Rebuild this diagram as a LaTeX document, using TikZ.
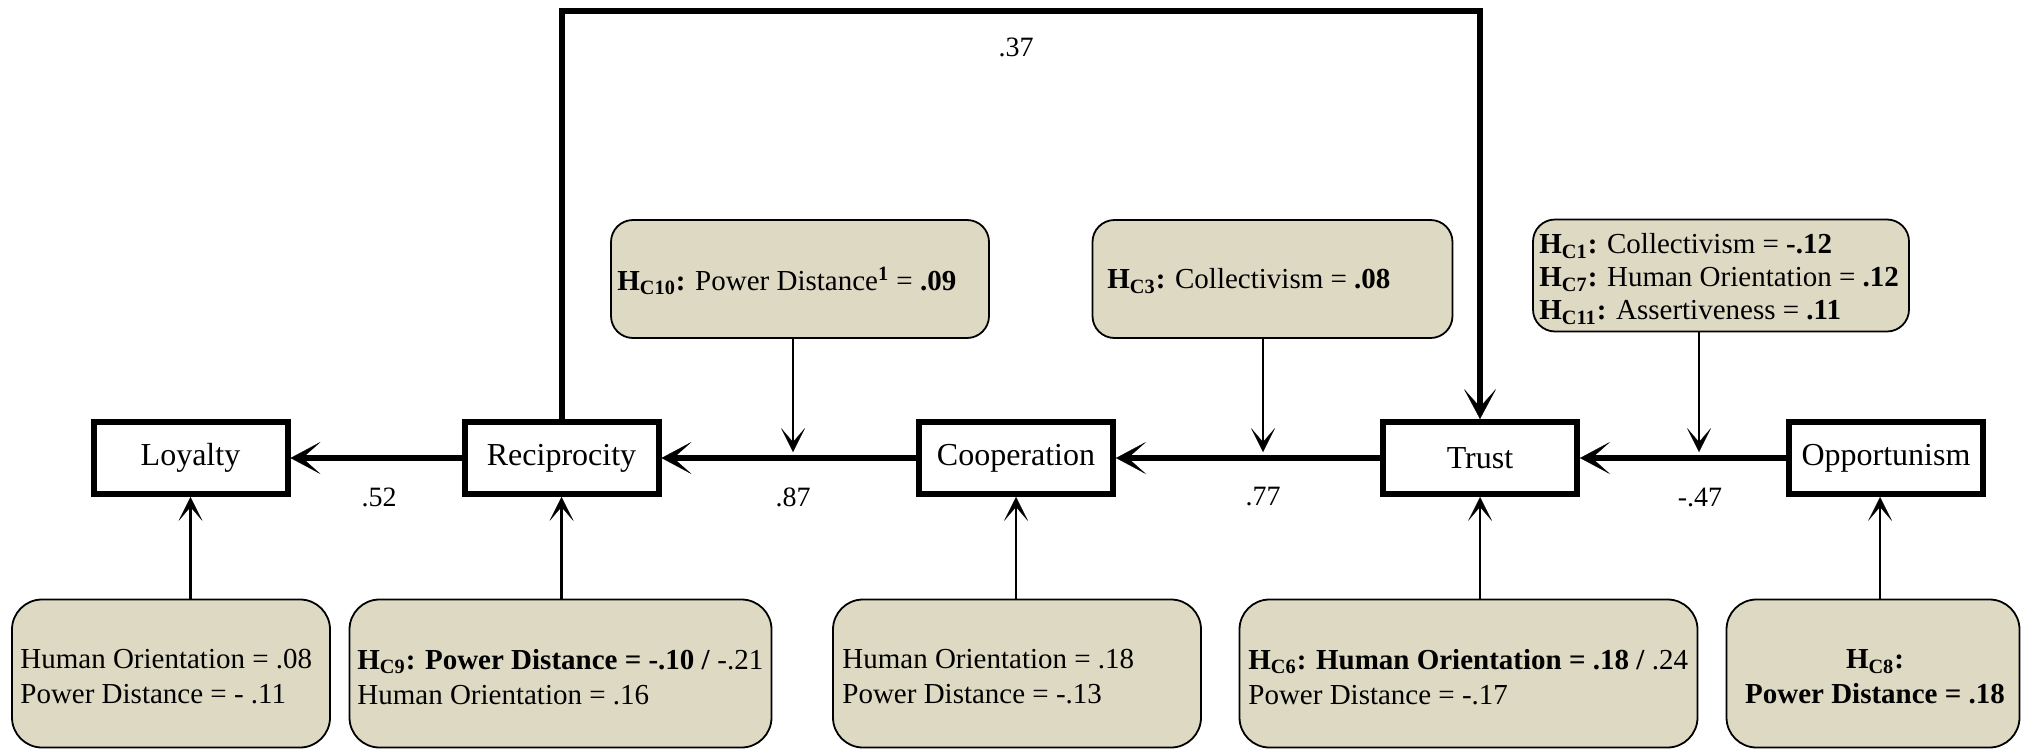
\documentclass[tikz,border=0pt]{standalone}
\usepackage{fontspec}
\setmainfont{Liberation Serif}
\usetikzlibrary{arrows.meta}
\definecolor{boxfill}{HTML}{DDD9C3}
\newcommand\hyp[1]{\textbf{H\textsubscript{C#1}:}}

\tikzset{
  construct/.style={draw, line width=3pt, fill=white, inner sep=0pt,
    minimum width=97pt, minimum height=36pt, font=\fontsize{16}{19}\selectfont},
  modbox/.style={draw, line width=0.9pt, fill=boxfill, rounded corners=11pt, inner sep=0pt},
  ctrlbox/.style={modbox, rounded corners=15pt},
  boxtext/.style={inner sep=0pt, align=left, anchor=west, font=\fontsize{14.5}{17.5}\selectfont},
  coef/.style={inner sep=0pt, font=\fontsize{14}{17}\selectfont},
  mainarrow/.style={line width=3pt, -{Stealth[length=15pt,width=16pt,inset=9pt,line width=0.1pt]}},
  modarrow/.style={line width=1.3pt, -{Stealth[length=12pt,width=12pt,inset=7pt,line width=0.1pt]}},
}

\begin{document}
\begin{tikzpicture}[x=0.5pt,y=-0.5pt]
\useasboundingbox (0,0) rectangle (2031,750);

% constructs
\node[construct] (loy)  at (190.5,458) {Loyalty};
\node[construct] (rec)  at (561.5,458) {Reciprocity};
\node[construct] (coop) at (1016,458)  {Cooperation};
\node[construct] (tru)  at (1480,458)  {Trust};
\node[construct] (opp)  at (1886,458)  {Opportunism};

% structural paths
\draw[mainarrow] (rec.west) -- (loy.east);
\draw[mainarrow] (coop.west) -- (rec.east);
\draw[mainarrow] (tru.west) -- (coop.east);
\draw[mainarrow] (opp.west) -- (tru.east);
\coordinate (fbtop) at (1016,10.5);
\draw[mainarrow] (rec.north) |- (fbtop) -| (tru.north);

% path coefficients
\node[coef] (c52) at (379,497) {.52};
\node[coef] (c87) at (793,497) {.87};
\node[coef] (c77) at (1263,497) {.77};
\node[coef] (c47) at (1700,497) {-.47};
\node[coef] (c37) at (1016,47) {.37};

% moderators of the paths
\node[modbox, minimum width=189pt, minimum height=59pt] (hc10) at (800,279) {};
\node[boxtext] (hc10t) at (617,281) {\hyp{10} Power Distance\textsuperscript{\textbf{1}} = \textbf{.09}};
\node[modbox, minimum width=180pt, minimum height=59pt] (hc3) at (1272.5,279) {};
\node[boxtext] (hc3t) at (1107,281) {\hyp{3} Collectivism = \textbf{.08}};
\node[modbox, minimum width=188pt, minimum height=56pt] (hc1) at (1721,275.5) {};
\node[boxtext, font=\fontsize{14.5}{16.5}\selectfont] (hc1t) at (1539,279)
  {\hyp{1} Collectivism = \textbf{-.12}\\ \hyp{7} Human Orientation = \textbf{.12}\\ \hyp{11} Assertiveness = \textbf{.11}};

\coordinate (m1) at (793,452);
\coordinate (m2) at (1263,452);
\coordinate (m3) at (1699,452);
\draw[modarrow] (hc10.south -| m1) -- (m1);
\draw[modarrow] (hc3.south -| m2) -- (m2);
\draw[modarrow] (hc1.south -| m3) -- (m3);

% moderators of the constructs
\node[ctrlbox, minimum width=159pt, minimum height=74pt] (b1) at (171,673.5) {};
\node[boxtext] (b1t) at (20,677) {Human Orientation = .08\\ Power Distance = - .11};
\node[ctrlbox, minimum width=211pt, minimum height=74pt] (b2) at (560.5,673.5) {};
\node[boxtext] (b2t) at (357,677) {\hyp{9} \textbf{Power Distance = -.10 /} -.21\\ Human Orientation = .16};
\node[ctrlbox, minimum width=184pt, minimum height=74pt] (b3) at (1017,673.5) {};
\node[boxtext] (b3t) at (842,677) {Human Orientation = .18\\ Power Distance = -.13};
\node[ctrlbox, minimum width=229pt, minimum height=74pt] (b4) at (1468.5,673.5) {};
\node[boxtext] (b4t) at (1248,677) {\hyp{6} \textbf{Human Orientation = .18 /} .24\\ Power Distance = -.17};
\node[ctrlbox, minimum width=146.5pt, minimum height=74pt] (b5) at (1873,673.5) {};
\node[boxtext, align=center, anchor=center] (b5t) at (1875,677) {\hyp{8}\\ \textbf{Power Distance = .18}};

\draw[modarrow] (loy.south |- b1.north) -- (loy.south);
\draw[modarrow] (rec.south |- b2.north) -- (rec.south);
\draw[modarrow] (coop.south |- b3.north) -- (coop.south);
\draw[modarrow] (tru.south |- b4.north) -- (tru.south);
\draw[modarrow] ([xshift=-3pt]opp.south |- b5.north) -- ([xshift=-3pt]opp.south);
\end{tikzpicture}
\end{document}
